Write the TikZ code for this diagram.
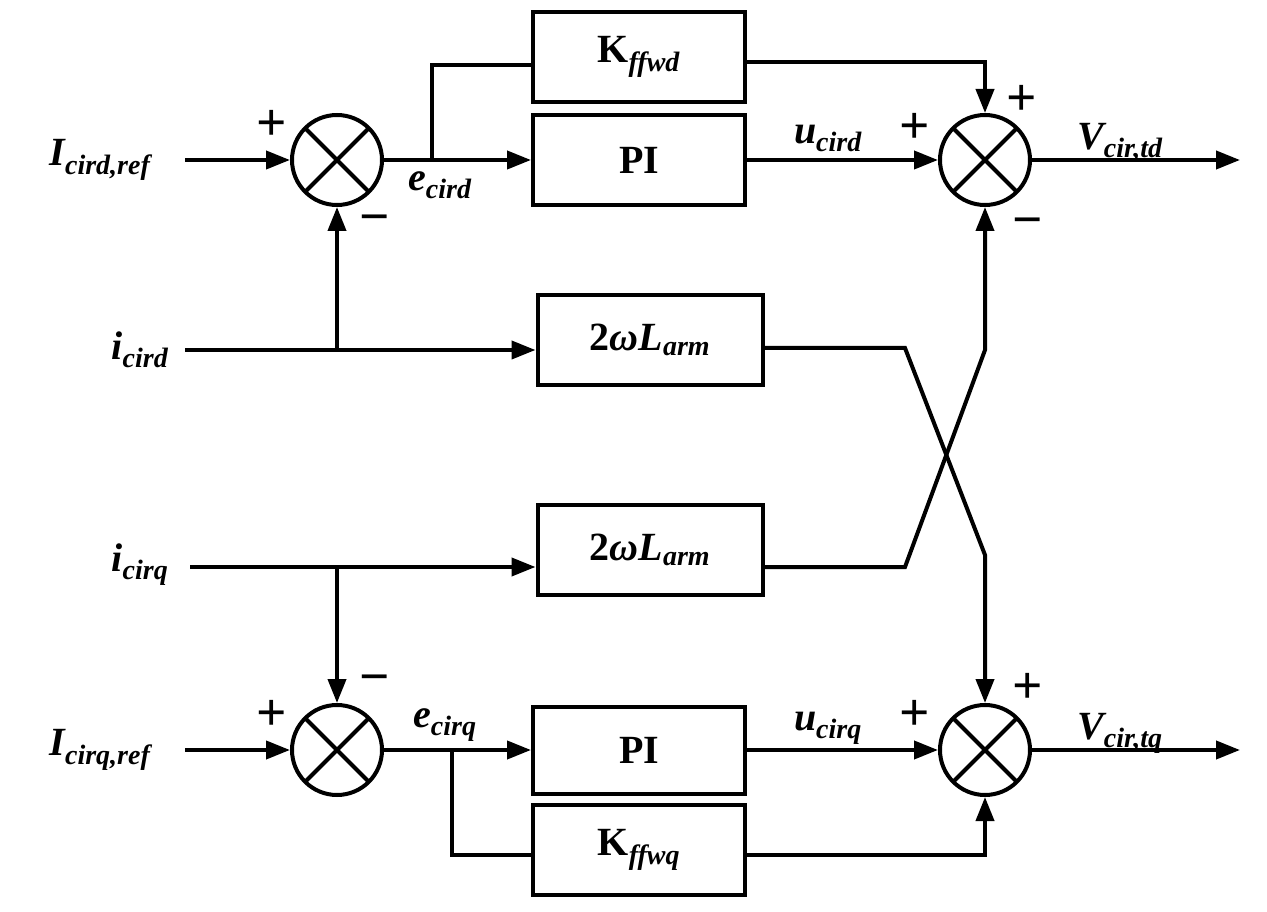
\documentclass[tikz,border=0pt]{standalone}
\usepackage{fontspec}
\setmainfont{Liberation Serif}
\usetikzlibrary{arrows.meta}
\begin{document}
\begin{tikzpicture}[x=0.75pt,y=-0.75pt,line width=3pt,
  ar/.style={-{Triangle[length=24pt*0.75,width=18pt*0.75]}},
  blk/.style={draw,rectangle,inner sep=0pt,font=\fontsize{30}{30}\selectfont\bfseries},
  sm/.style={draw,circle,minimum size=90*0.75pt,inner sep=0pt,path picture={
     \draw[line width=3pt] (path picture bounding box.north west)--(path picture bounding box.south east)
     (path picture bounding box.north east)--(path picture bounding box.south west);}},
  lb/.style={font=\fontsize{30}{30}\selectfont\bfseries\itshape,inner sep=0pt},
  sg/.style={font=\fontsize{40}{40}\selectfont\bfseries,inner sep=0pt}]
\useasboundingbox (0,0) rectangle (1267,912);
% blocks
\node[blk,minimum width=212*0.75pt,minimum height=90*0.75pt] (K1) at (639,57) {K\textsubscript{\textit{ffwd}}};
\node[blk,minimum width=212*0.75pt,minimum height=90*0.75pt] (PI1) at (639,160) {PI};
\node[blk,minimum width=225*0.75pt,minimum height=90*0.75pt] (W1) at (650,340) {2\textit{ω}\textit{L}\textsubscript{\textit{arm}}};
\node[blk,minimum width=225*0.75pt,minimum height=90*0.75pt] (W2) at (650,550) {2\textit{ω}\textit{L}\textsubscript{\textit{arm}}};
\node[blk,minimum width=212*0.75pt,minimum height=87*0.75pt] (PI2) at (639,750) {PI};
\node[blk,minimum width=212*0.75pt,minimum height=90*0.75pt] (K2) at (639,850) {K\textsubscript{\textit{ffwq}}};
% sums
\node[sm] (S1) at (337,160) {};
\node[sm] (S2) at (985,160) {};
\node[sm] (S3) at (337,750) {};
\node[sm] (S4) at (985,750) {};
% labels
\node[lb] (Ir1) at (100,160) {I\textsubscript{cird,ref}};
\node[lb] (ic1) at (140,350) {i\textsubscript{cird}};
\node[lb] (ic2) at (140,565) {i\textsubscript{cirq}};
\node[lb] (Ir2) at (100,750) {I\textsubscript{cirq,ref}};
\node[lb] at (440,185) {e\textsubscript{cird}};
\node[lb] at (445,725) {e\textsubscript{cirq}};
\node[lb] at (828,138) {u\textsubscript{cird}};
\node[lb] at (828,728) {u\textsubscript{cirq}};
\node[lb] at (1120,143) {V\textsubscript{cir,td}};
\node[lb] at (1120,733) {V\textsubscript{cir,tq}};
\node[sg] at (272,125) {+};
\node[sg] at (375,225) {−};
\node[sg] at (915,128) {+};
\node[sg] at (1022,100) {+};
\node[sg] at (1028,228) {−};
\node[sg] at (272,715) {+};
\node[sg] at (375,685) {−};
\node[sg] at (915,715) {+};
\node[sg] at (1028,688) {+};
% coordinates
\coordinate (o1) at (1240,160);
\coordinate (o2) at (1240,750);
% top
\draw[ar] (185,160) -- (S1.west);
\draw[ar] (S1.east) -- (PI1.west);
\draw (432,160) -- (432,65) -- (533,65);
\draw[ar] (K1.east |- 0,62) -- (985,62) -- (S2.north);
\draw[ar] (PI1.east) -- (S2.west);
\draw[ar] (S2.east) -- (o1);
\draw[ar] (185,350) -- (W1.west |- 0,350);
\draw[ar] (337,350) -- (S1.south);
\draw[ar] (W1.east |- 0,348) -- (905,348) -- (985,555) -- (S4.north);
\draw[ar] (W2.east |- 0,567) -- (905,567) -- (985,350) -- (S2.south);
% bottom
\draw[ar] (190,567) -- (W2.west |- 0,567);
\draw[ar] (337,567) -- (S3.north);
\draw[ar] (185,750) -- (S3.west);
\draw[ar] (S3.east) -- (PI2.west);
\draw (452,750) -- (452,855) -- (533,855);
\draw[ar] (K2.east |- 0,855) -- (985,855) -- (S4.south);
\draw[ar] (PI2.east) -- (S4.west);
\draw[ar] (S4.east) -- (o2);
\end{tikzpicture}
\end{document}
